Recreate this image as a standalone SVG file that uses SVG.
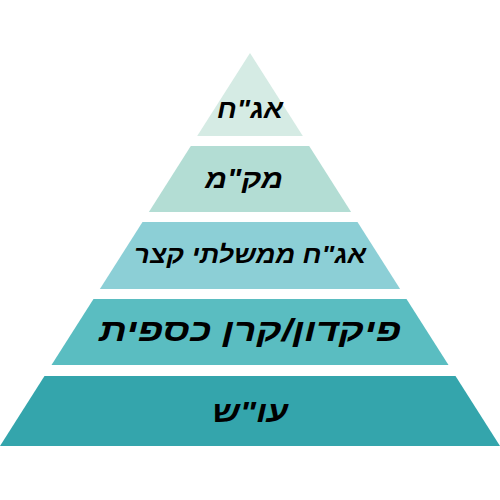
<svg xmlns="http://www.w3.org/2000/svg" width="500" height="500" viewBox="0 0 500 500">
<style>
.lbl{font-family:"Liberation Sans","DejaVu Sans",sans-serif;font-style:italic;font-weight:bold;fill:#000;text-anchor:middle;direction:rtl}
</style>
<rect width="500" height="500" fill="#fff"/>
<g id="level1">
<polygon points="250,53 302.8,136 197.2,136" fill="#d5ebe4"/>
<text class="lbl" x="250" y="118" font-size="26" textLength="66" lengthAdjust="spacingAndGlyphs">אג"ח</text>
</g>
<g id="level2">
<polygon points="190.8,146 309.2,146 351.1,212 148.9,212" fill="#b3ddd4"/>
<text class="lbl" x="244" y="188" font-size="27" textLength="78" lengthAdjust="spacingAndGlyphs">מק"מ</text>
</g>
<g id="level3">
<polygon points="142.5,222 357.5,222 400.1,289 99.9,289" fill="#8ccfd6"/>
<text class="lbl" x="250" y="263" font-size="24" textLength="232" lengthAdjust="spacingAndGlyphs">אג"ח ממשלתי קצר</text>
</g>
<g id="level4">
<polygon points="93.5,299 406.5,299 448.5,365 51.5,365" fill="#5abdc1"/>
<text class="lbl" x="250" y="341" font-size="31" textLength="302" lengthAdjust="spacingAndGlyphs">פיקדון/קרן כספית</text>
</g>
<g id="level5">
<polygon points="44.5,376 455.5,376 500,446 0,446" fill="#34a5ac"/>
<text class="lbl" x="250" y="422" font-size="30" textLength="76" lengthAdjust="spacingAndGlyphs">עו"ש</text>
</g>
</svg>
